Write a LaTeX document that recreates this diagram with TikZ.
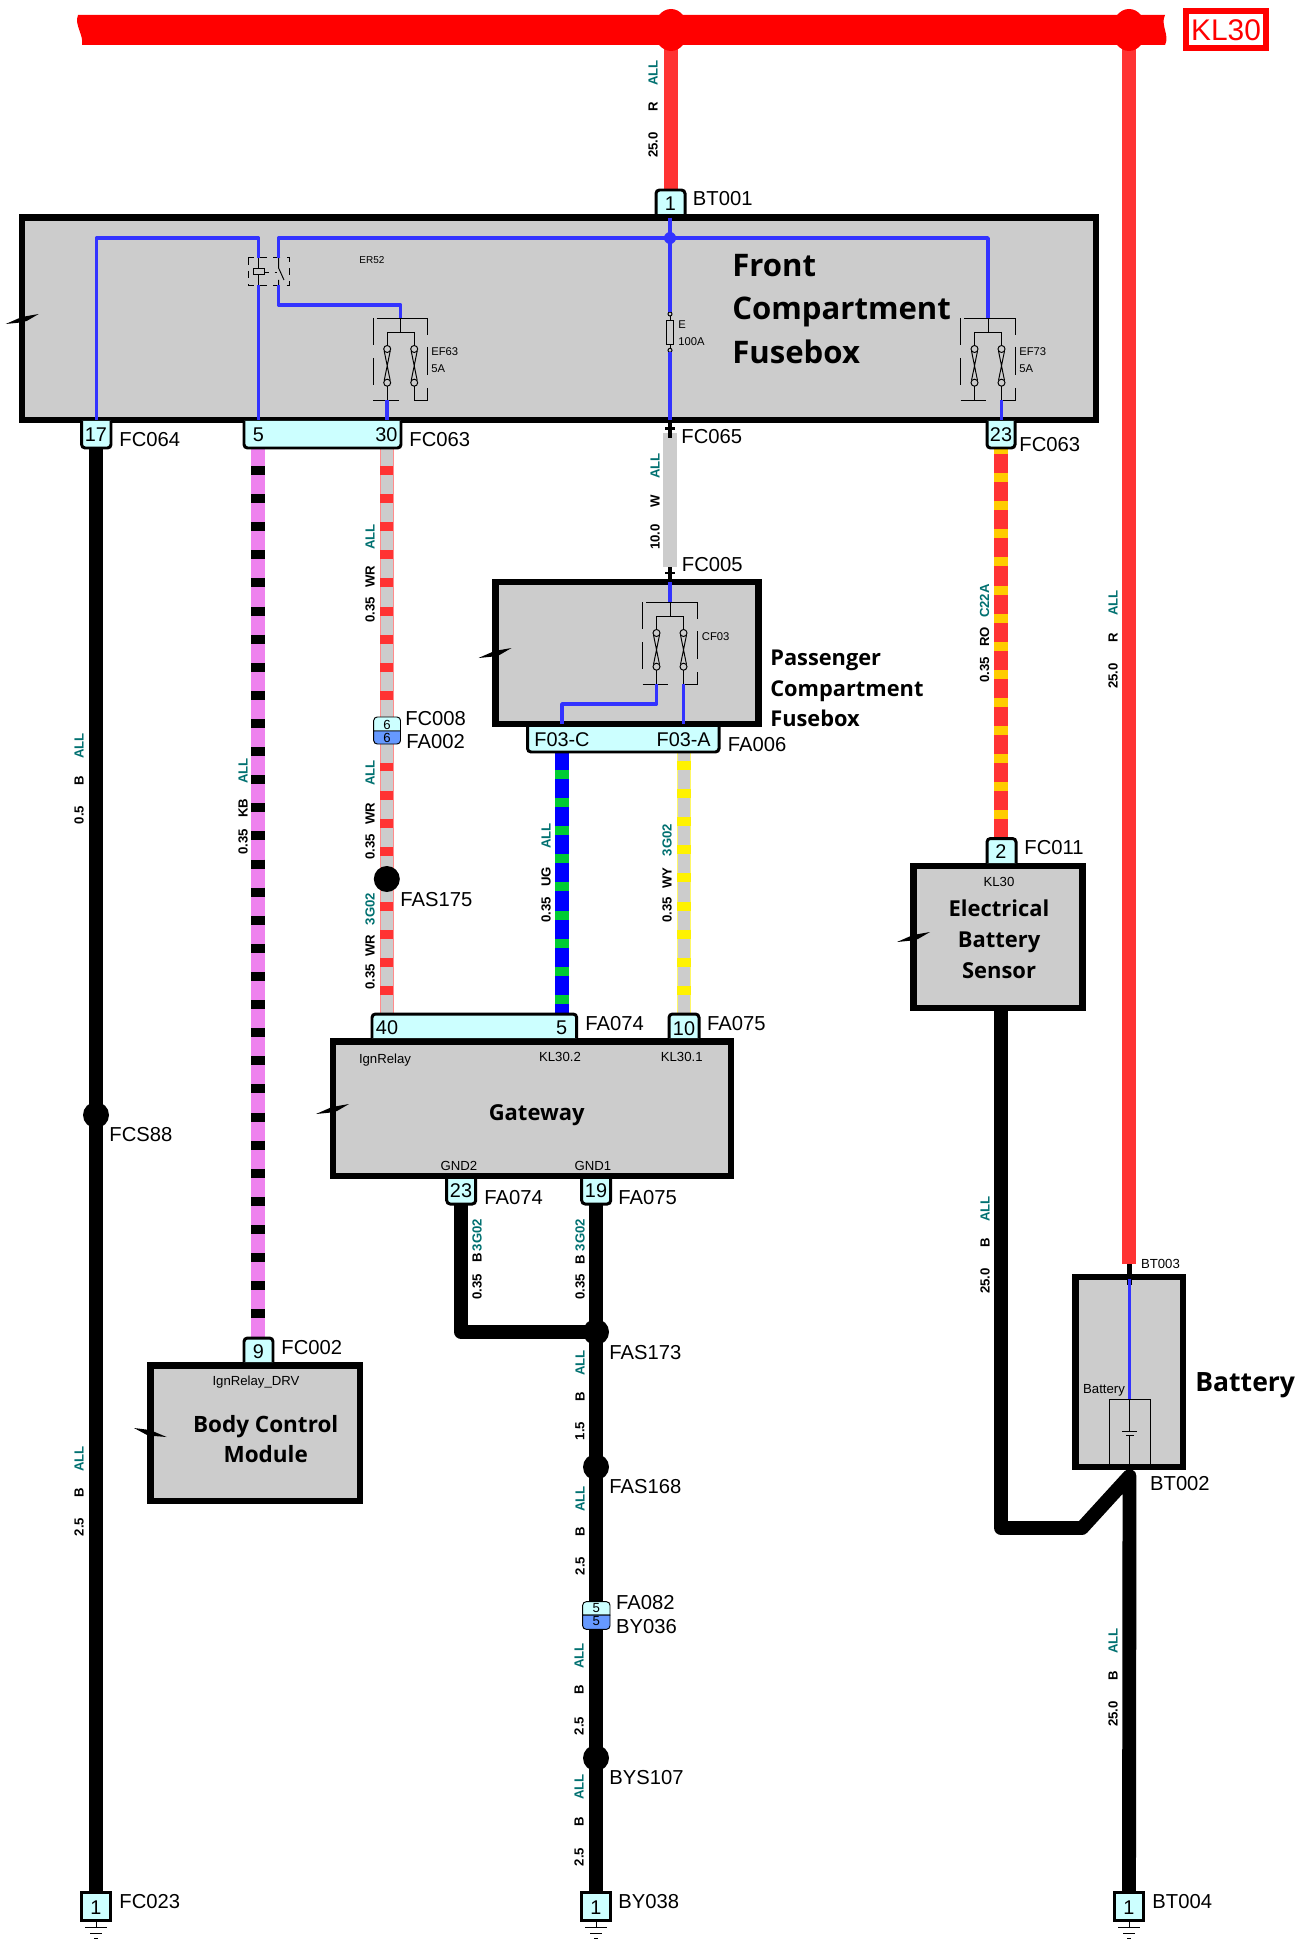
\documentclass[tikz,border=0pt]{standalone}
\usepackage{fontspec}
\setmainfont{Liberation Sans}
\newfontfamily\boxfont{Open Sans}
\usepackage{xcolor}
\usetikzlibrary{calc}
\definecolor{boxgray}{HTML}{CCCCCC}
\definecolor{pincyan}{HTML}{CCFFFF}
\definecolor{pinblue}{HTML}{6699FF}
\definecolor{wirered}{HTML}{FF3333}
\definecolor{wireblue}{HTML}{3333FF}
\definecolor{wireteal}{HTML}{007070}
\definecolor{wireviolet}{HTML}{EE82EE}
\definecolor{wiregreen}{HTML}{00CC33}
\definecolor{wireorange}{HTML}{FFCC00}
\tikzset{
	module/.style={fill=boxgray, draw=black, line width=3.7pt},
	wire/.style={line width=7.9pt},
	inner/.style={line width=2pt, draw=wireblue, line join=round},
	fine/.style={line width=0.55pt, draw=black},
	stripe/.style={line width=7.5pt, dash pattern=on 5.1pt off 10.9pt},
	pinbox/.style={fill=pincyan, draw=black, line width=1.7pt, rounded corners=2pt},
	pintext/.style={font=\fontsize{11.3}{11.3}\selectfont, inner sep=0pt},
	tag/.style={font=\fontsize{11.5}{11.5}\selectfont, anchor=west, inner sep=0pt, xshift=-0.5pt, yshift=-0.5pt},
	smalltag/.style={font=\fontsize{7.5}{7.5}\selectfont, inner sep=0pt, text height=0.72em, text depth=0pt},
	tinytag/.style={font=\fontsize{6.4}{6.4}\selectfont, anchor=west, inner sep=0pt},
	title/.style={font=\fontsize{12.5}{12.5}\selectfont\boxfont\bfseries, inner sep=0pt, text height=0.72em, text depth=0pt},
	wiredata/.style={font=\fontsize{7.5}{7.5}\selectfont\bfseries, rotate=90, inner sep=0pt},
}

\begin{document}
\begin{tikzpicture}[x=0.02cm, y=-0.02cm]
	
	\useasboundingbox (0,0) rectangle (1301,1939);
	
	%% Wire ends
	\coordinate[](h1) at (671,30);
	\coordinate[](h2) at (1129,30);
	\coordinate[](bt1) at (671,190);
	\coordinate[](bt3) at (1129,1264);
	\coordinate[](fc64) at (96,448);
	\coordinate[](fc23) at (96,1892);
	\coordinate[](fc63a) at (258,448);
	\coordinate[](fc63as) at (258,466);
	\coordinate[](fc2) at (258,1338);
	\coordinate[](fc63b) at (386.8,448);
	\coordinate[](fc63bs) at (386.8,466);
	\coordinate[](fc8) at (386.8,720);
	\coordinate[](fa2) at (386.8,744);
	\coordinate[](fa2s) at (386.8,762.5);
	\coordinate[](fas175) at (386.8,879);
	\coordinate[](fas175s) at (386.8,874);
	\coordinate[](fa74a) at (386.8,1014);
	\coordinate[](fc65) at (670,433);
	\coordinate[](fc5) at (670,567);
	\coordinate[](f3c) at (562,752);
	\coordinate[](f3cs) at (562,770);
	\coordinate[](fa74b) at (562,1014);
	\coordinate[](f3a) at (684,752);
	\coordinate[](f3as) at (684,761);
	\coordinate[](fa75) at (684,1014);
	\coordinate[](fc63c) at (1001,448);
	\coordinate[](fc63cs) at (1001,445);
	\coordinate[](fc11) at (1001,838);
	\coordinate[](ebs) at (1001,1010);
	\coordinate[](bt2) at (1129.5,1476);
	\coordinate[](bt4) at (1129,1892);
	\coordinate[](g2) at (461,1204);
	\coordinate[](g1) at (596,1204);
	\coordinate[](fas173) at (596,1332);
	\coordinate[](by38) at (596,1892);
	
	% Wires
	\draw[wire, wirered] (h1) -- (bt1);
	\draw[wire, wirered] (h2) -- (bt3);
	\draw[wire, black] (fc64) -- (fc23);
	\draw[wire, boxgray] (fc65) -- (fc5);
	\draw[wire, black, line join=round] (ebs) |- (1082,1528) -- (bt2) -- (bt4);
	\draw[wire, black, line join=round] (g2) |- (fas173);
	\draw[wire, black] (g1) -- (by38);
	
	\foreach \a/\s/\b/\e/\c/\d in {fc63a/fc63as/fc2/wireviolet/wireviolet/black,
		fc63b/fc63bs/fc8/red!45/boxgray/wirered,
		fa2/fa2s/fas175/red!45/boxgray/wirered,
		fas175/fas175s/fa74a/red!45/boxgray/wirered,
		f3c/f3cs/fa74b/blue/blue/wiregreen,
		f3a/f3as/fa75/yellow!60/boxgray/yellow,
		fc63c/fc63cs/fc11/wirered/wirered/wireorange}
	{
	\draw[wire, \e] (\a) -- (\b);
	\draw[line width=7.1pt, \c] (\a) -- (\b);
	\draw[stripe, \d] (\s) -- (\b);
	}
	
	% Bus
	\fill[red] (78,15) -- (1165,15) .. controls (1160,25) and (1170,35) .. (1165,45)
	-- (82,45) .. controls (84,35) and (74,25) .. cycle;
	\foreach \x in {671,1129}
	{
	\fill[red] (\x,30) ellipse (17 and 21);
	}
	\draw[line width=3pt, draw=red] (1186,11) rectangle (1266,48);
	\node[text=red, font=\fontsize{17}{17}\selectfont, inner sep=0pt] (kl30) at (1226,30) {KL30};
	
	% Splices
	\foreach \x/\y in {96/1115, 386.8/879, 596/1332, 596/1467, 596/1758}
	{
	\fill[black] (\x,\y) circle (13);
	}
	
	% Modules
	\filldraw[module] (22,217.5) rectangle (1096,420);
	\filldraw[module] (495.3,582) rectangle (758.3,724);
	\filldraw[module] (333,1041.5) rectangle (731,1176);
	\filldraw[module] (150.5,1365.5) rectangle (360,1500.8);
	\filldraw[module] (913.3,866) rectangle (1082.5,1007.8);
	\filldraw[module] (1075.5,1277) rectangle (1183,1467);
	
	\foreach \x/\y in {38.7/314, 511.5/648, 349/1104, 930/932}
	{
	\fill[black] (\x,\y) -- ++(-17,3) -- ++(-16,7) -- ++(15,-1.5) -- ++(6,-1.5) -- cycle;
	}
	\fill[black] (134,1428) -- (150,1430) -- (166.7,1437) -- (148,1435.5) -- cycle;
	
	% Fuse pairs
	\foreach \x/\y in {400.7/318, 988/318, 670/602}
	{
	\begin{scope}[shift={(\x,\y)}]
	\draw[fine] (-24,0) -- (14,0) (14,0) -- (27,0) -- (27,17);
	\draw[fine] (-27.5,0) -- (-27.5,27) (-27.5,40) -- (-27.5,67);
	\draw[fine] (27,29) -- (27,57) (27,70) -- (27,82) -- (13.5,82);
	\draw[fine] (-27.5,82) -- (-2,82);
	\draw[fine] (0,0) -- (0,14) (-13.5,14) -- (13.5,14);
	\foreach \s in {-13.5,13.5}
	{
	\draw[fine] (\s,14) -- (\s,27.5) (\s,68) -- (\s,82);
	\draw[fine] (\s,31) circle (3.5);
	\draw[fine] (\s,64.7) circle (3.5);
	\draw[fine] (\s-3,33) -- (\s+3,62.5) (\s+3,33) -- (\s-3,62.5);
	}
	\end{scope}
	}
	
	% Relay and main fuse
	\draw[fine, dash pattern=on 4pt off 3.5pt] (248,257.7) rectangle (289.6,285);
	\draw[fine] (258.4,258) -- (258.4,285);
	\filldraw[fine, fill=boxgray] (253,268.7) rectangle (264,274.3);
	\draw[fine, dashed] (264,272) -- (277,272);
	\draw[fine] (278.6,258) -- (278.6,268) -- (284,280) (278.6,280) -- (278.6,285);
	\draw[fine] (670,314) -- (670,350);
	\filldraw[fine, fill=boxgray] (666.5,320) rectangle (673.5,344.3);
	\filldraw[fine, fill=boxgray] (670,314) circle (2);
	\filldraw[fine, fill=boxgray] (670,350.3) circle (2);
	
	% Inner wires
	\draw[inner] (96.4,420) |- (258.4,238) -- (258.4,258);
	\draw[inner] (258.4,285) -- (258.4,420);
	\draw[inner] (278.6,258) |- (988,238) -- (988,318);
	\draw[inner] (278.6,285) |- (400.7,305) -- (400.7,318);
	\draw[inner] (387,400) -- (387,420);
	\draw[inner] (1001.5,400) -- (1001.5,420);
	\draw[inner] (670,218) -- (670,312);
	\draw[inner] (670,352) -- (670,420);
	\fill[wireblue] (670,238) circle (6);
	\draw[inner] (670,582) -- (670,602);
	\draw[inner] (656.5,684) |- (562,704) -- (562,724);
	\draw[inner] (683.5,684) -- (683.5,724);
	\draw[line width=2.3pt, draw=black] (1129.5,1264) -- (1129.5,1285);
	\draw[inner] (1129.5,1279) -- (1129.5,1399);
	
	% Battery cell
	\draw[fine] (1109,1467) -- (1109,1399) -- (1150,1399) -- (1150,1467);
	\draw[fine] (1129.5,1399) -- (1129.5,1431) (1122,1431) -- (1137,1431);
	\draw[fine] (1126,1435.5) -- (1134,1435.5) (1129.5,1435.5) -- (1129.5,1472);
	
	% Stubs
	\foreach \y/\c in {423/428.5, 567/573}
	{
	\draw[line width=2.3pt, draw=black] (670,\y) -- (670,\y+15);
	\draw[line width=1.5pt, draw=black] (665,\c) -- (675,\c);
	}
	
	%% Pins
	\foreach \xa/\xb/\ya/\yb in {656/685/214/190, 81.6/111/421/448, 244/401/421/448,
		987/1015/421/448, 527.5/719/727/752, 372/576.7/1038/1014, 669/699/1038/1014,
		446.7/475.7/1179/1204, 581.7/610.7/1179/1204, 244/273/1362/1338, 987/1016/863/838.5}
	{
	\filldraw[pinbox] (\xa,\ya) -- (\xa,\yb) -- (\xb,\yb) -- (\xb,\ya);
	}
	
	\foreach \x in {96,596,1129}
	{
	\filldraw[pinbox] (\x-14.5,1920) [sharp corners] -- (\x-14.5,1892) -- (\x+14.5,1892) -- (\x+14.5,1920) -- cycle;
	\draw[fine] (\x,1920) -- (\x,1927) (\x-11,1927) -- (\x+11,1927);
	\draw[fine] (\x-6,1933) -- (\x+6,1933) (\x-2,1938) -- (\x+2,1938);
	\node[pintext] (gnd\x) at (\x,1908) {1};
	}
	
	\foreach \x/\y/\t in {670.5/204/1, 96/435/17, 258.4/435/5, 386.4/435/30, 1001/435/23,
		562/740/F03-C, 683.7/740/F03-A, 387/1028/40, 561.7/1028/5, 684/1029/10,
		461/1191/23, 596/1191/19, 258.5/1351.7/9, 1001/852/2}
	{
	\node[pintext] (pin\x-\y) at (\x,\y) {\t};
	}
	
	% Inline connectors
	\foreach \xa/\xb/\ya/\ym/\yb/\t in {373.7/400.5/717/731/744/6, 582.7/610/1601.7/1615/1629.3/5}
	{
	\filldraw[fine, fill=pincyan] (\xa,\ym) [rounded corners=2pt] -- (\xa,\ya) -- (\xb,\ya) [sharp corners] -- (\xb,\ym) -- cycle;
	\filldraw[fine, fill=pinblue] (\xa,\ym) [rounded corners=2pt] -- (\xa,\yb) -- (\xb,\yb) [sharp corners] -- (\xb,\ym) -- cycle;
	\node[font=\fontsize{7.5}{7.5}\selectfont, inner sep=0pt] (top\t) at ($(\xa,\ym)!0.5!(\xb,\ym)+(0,-6.5)$) {\t};
	\node[font=\fontsize{7.5}{7.5}\selectfont, inner sep=0pt] (bot\t) at ($(\xa,\ym)!0.5!(\xb,\ym)+(0,6.5)$) {\t};
	}
	
	%% Connector names
	\foreach \x/\y/\t in {693.5/198/BT001, 120/439/FC064, 410/439/FC063, 682/436/FC065,
		1020/444/FC063, 682.5/564/FC005, 405.8/718/FC008, 407/741/FA002, 728.4/744/FA006,
		401/899/FAS175, 1025/847/FC011, 586/1023/FA074, 707.7/1023/FA075, 110/1134/FCS88,
		485/1197/FA074, 619/1197/FA075, 610/1352/FAS173, 282/1347/FC002, 610/1486/FAS168,
		616.7/1602/FA082, 616.7/1626/BY036, 610/1777/BYS107, 1150.7/1483/BT002,
		120/1901/FC023, 619/1901/BY038, 1153/1901/BT004}
	{
	\node[tag] (name\x-\y) at (\x,\y) {\t};
	}
	
	% Wire data
	\foreach \x/\y/\t in {653/73/ALL, 1113/603/ALL, 79/746/ALL, 79/1459/ALL, 243/771/ALL,
		370/537/ALL, 370/773/ALL, 370/909/3G02, 655/466/ALL, 546/836/ALL, 667/840/3G02,
		984.5/601/C22A, 985/1209/ALL, 1113/1641/ALL, 477/1235/3G02, 580/1235/3G02,
		580/1363/ALL, 580/1499/ALL, 579/1656/ALL, 579/1787/ALL}
	{
	\node[wiredata, text=wireteal] (data\x-\y) at (\x,\y) {\t};
	}
	\foreach \x/\y/\t in {653/107/R, 653/145/25.0, 1113/638/R, 1113/676/25.0, 79/781/B,
		79/815/0.5, 79/1493/B, 79/1527/2.5, 243/808/KB, 243/842/0.35, 370/577/WR,
		370/610/0.35, 370/814/WR, 370/847/0.35, 370/946/WR, 370/977/0.35, 655/501/W,
		655/537/10.0, 546/877/UG, 546/910/0.35, 667/878/WY, 667/910/0.35, 984.5/637/RO,
		984.5/670/0.35, 985/1243/B, 985/1281/25.0, 1113/1676/B, 1113/1714/25.0, 477/1258/B,
		477/1287/0.35, 580/1260/B, 580/1287/0.35, 580/1397/B, 580/1431/1.5, 580/1532/B,
		580/1566/2.5, 579/1690/B, 579/1726/2.5, 579/1822/B, 579/1857/2.5}
	{
	\node[wiredata] (data\x-\y) at (\x,\y) {\t};
	}
	
	% Small texts
	\foreach \x/\y/\t in {385/1057/IgnRelay, 560/1055/KL30.2, 681.7/1055/KL30.1,
		459/1164/GND2, 593/1164/GND1, 256/1379/IgnRelay\_DRV, 999/880/KL30, 1104/1387/Battery}
	{
	\node[smalltag] (small\x-\y) at (\x,\y) {\t};
	}
	\node[smalltag, anchor=west] (bt3name) at (1140.7,1262) {BT003};
	\foreach \x/\y/\t in {431/352/EF63, 431/369/5A, 1019/352/EF73, 1019/369/5A,
		678/325/E, 678/342/100A, 701.6/637/CF03}
	{
	\node[tinytag] (fuse\x-\y) at (\x,\y) {\t};
	}
	\node[tinytag, font=\fontsize{5.7}{5.7}\selectfont] (er52) at (359,260) {ER52};
	
	% Titles
	\foreach \y/\t in {270/Front, 313/Compartment, 357/Fusebox}
	{
	\node[title, anchor=west, font=\fontsize{17.7}{17.7}\selectfont\boxfont\bfseries] (front\y) at (732,\y) {\t};
	}
	\foreach \y/\t in {659/Passenger, 690/Compartment, 720/Fusebox}
	{
	\node[title, anchor=west, font=\fontsize{12.4}{12.4}\selectfont\boxfont\bfseries] (pass\y) at (770,\y) {\t};
	}
	\foreach \y/\t in {910/Electrical, 941/Battery, 972/Sensor}
	{
	\node[title] (ebs\y) at (999,\y) {\t};
	}
	\node[title] (gateway) at (536.7,1114.5) {Gateway};
	\node[title, font=\fontsize{12.8}{12.8}\selectfont\boxfont\bfseries] (bcm1) at (265.7,1426) {Body Control};
	\node[title, font=\fontsize{12.8}{12.8}\selectfont\boxfont\bfseries] (bcm2) at (265.7,1456) {Module};
	\node[title, anchor=west, font=\fontsize{15.1}{15.1}\selectfont\boxfont\bfseries] (battery) at (1195,1385) {Battery};
	
\end{tikzpicture}
\end{document}
